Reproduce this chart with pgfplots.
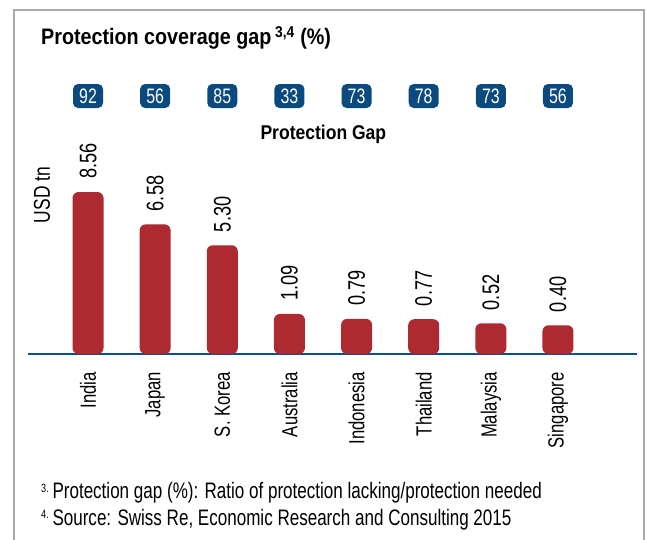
\documentclass[border=0pt]{standalone}
\usepackage{fontspec}
\setmainfont{Liberation Sans}[FakeStretch=0.76]
\newfontfamily\boldcond{Liberation Sans}[FakeStretch=0.88]
\usepackage{pgfplots}
\pgfplotsset{compat=1.18}
\usepackage{pgfplotstable}
\usetikzlibrary{calc}
\definecolor{barred}{HTML}{AD2A30}
\definecolor{badgeblue}{HTML}{0B4A7E}
\definecolor{lineblue}{HTML}{0E4D85}
\definecolor{framegray}{HTML}{AAAAAA}

\pgfplotstableread{
x val lab gap by
0 8.56 8.56 92 15.8
1 6.58 6.58 56 15.8
2 5.30 5.30 85 15.8
3 1.09 1.09 33 15.8
4 0.79 0.79 73 15.8
5 0.77 0.77 78 15.8
6 0.52 0.52 73 15.8
7 0.40 0.40 56 15.8
}\data

\newcommand{\fn}[1]{\raisebox{0.55ex}{\fontsize{12}{12}\selectfont #1}}

\begin{document}
\begin{tikzpicture}
\begin{axis}[name=ax, scale only axis, width=609bp, height=274bp,
  xmin=-0.894, xmax=8.177, ymin=0, ymax=16.78,
  clip=false,
  axis x line*=bottom, axis y line=none,
  x axis line style={lineblue, line width=2bp, -},
  ytick=\empty,
  xtick={0,...,7},
  xticklabels={India, Japan, S. Korea, Australia, Indonesia, Thailand, Malaysia, Singapore},
  major tick length=0pt,
  xticklabel style={rotate=90, anchor=east, inner xsep=18bp, inner ysep=0pt, font=\fontsize{22}{22}\selectfont},
  title={Protection Gap},
  title style={at={(axis description cs:0.485,0.781)}, anchor=center, font=\boldcond\bfseries\fontsize{20}{20}\selectfont},
]
\addplot[ybar, bar width=31bp, fill=barred, draw=none, rounded corners=6bp,
  y filter/.expression={y+1.36},
  nodes near coords, point meta=explicit symbolic,
  every node near coord/.style={rotate=90, anchor=west, inner xsep=13bp, inner ysep=0pt, font=\fontsize{24}{24}\selectfont, text=black}]
  table[x=x, y=val, meta=lab]{\data};
\addplot[draw=none, mark=none,
  nodes near coords, point meta=explicit symbolic,
  every node near coord/.style={anchor=center, fill=badgeblue, text=white, rounded corners=5bp, minimum width=30bp, minimum height=24bp, inner sep=0pt, font=\fontsize{21}{21}\selectfont}]
  table[x=x, y=by, meta=gap]{\data};
\node[rotate=90, font=\fontsize{23}{23}\selectfont] at (axis description cs:0.023,0.58) {USD tn};
\end{axis}
\begin{scope}[shift={($(ax.south west)+(-28bp,354bp)$)}, x=1bp, y=-1bp]
\pgfresetboundingbox
\useasboundingbox (0,0) rectangle (646,540);
\draw[framegray, line width=1.2bp] (14,540) -- (14,10) -- (644,10) -- (644,540);
\node[anchor=base west, inner sep=0pt, font=\boldcond\bfseries\fontsize{22.5}{22.5}\selectfont] at (41,45) {Protection coverage gap\,\textsuperscript{3,4} (\%)};
\node[anchor=base west, inner sep=0pt, font=\fontsize{22.5}{22.5}\selectfont] at (41,499) {\fn{3.}\,Protection gap (\%): Ratio of protection lacking/protection needed};
\node[anchor=base west, inner sep=0pt, font=\fontsize{22.5}{22.5}\selectfont] at (41,525) {\fn{4.}\,Source: Swiss Re, Economic Research and Consulting 2015};
\end{scope}
\end{tikzpicture}
\end{document}
